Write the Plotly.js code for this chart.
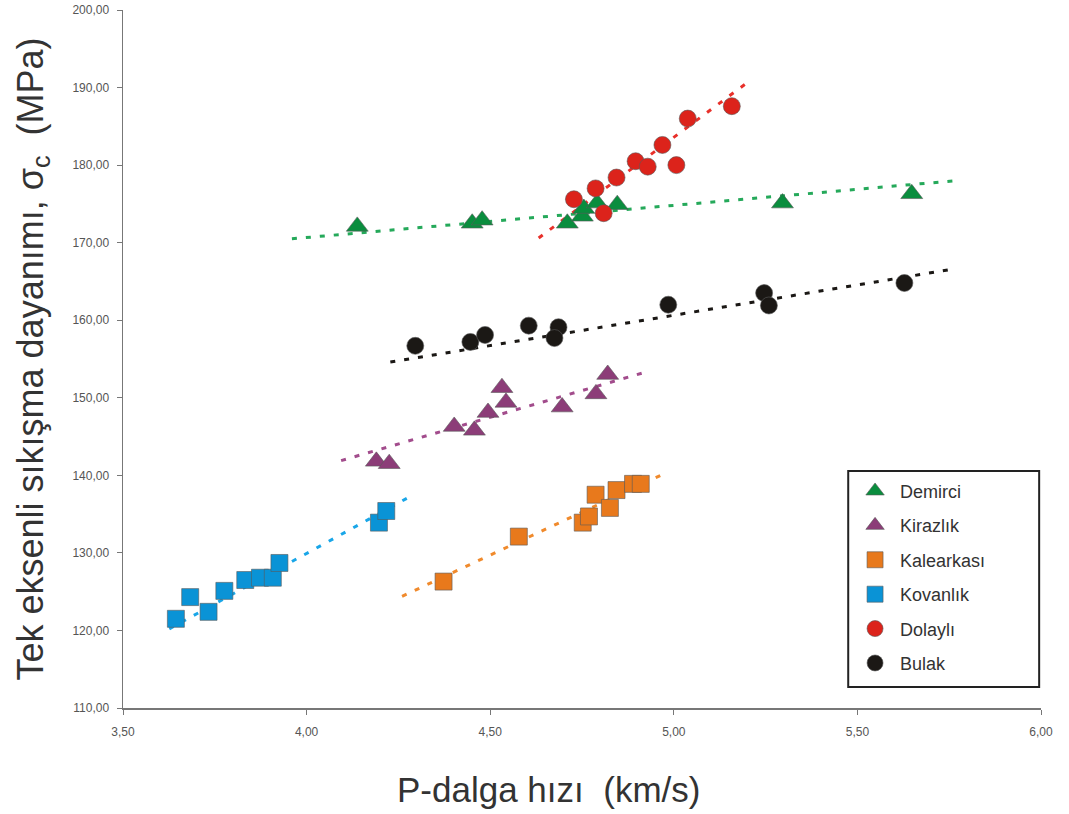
<!DOCTYPE html>
<html>
<head>
<meta charset="utf-8">
<script src="https://cdn.plot.ly/plotly-3.0.1.min.js"></script>
<style>html,body{margin:0;padding:0;background:#fff}#chart{width:1069px;height:814px}</style>
</head>
<body>
<div id="chart"></div>
<script>
// Demirci
const demirciX = [4.138, 4.451, 4.478, 4.710, 4.751, 4.755, 4.791, 4.846, 5.296, 5.648];
const demirciY = [172.1, 172.5, 172.9, 172.5, 173.4, 174.4, 175.1, 174.9, 175.1, 176.3];
const demirciTrendX = [3.96, 5.77];
const demirciTrendY = [170.5, 178.0];
// Kirazlık
const kirazlikX = [4.190, 4.225, 4.402, 4.457, 4.494, 4.532, 4.543, 4.696, 4.788, 4.820];
const kirazlikY = [141.8, 141.5, 146.3, 145.8, 148.1, 151.3, 149.4, 148.8, 150.5, 153.0];
const kirazlikTrendX = [4.094, 4.915];
const kirazlikTrendY = [141.9, 153.2];
// Kalearkası
const kalearkasiX = [4.373, 4.578, 4.752, 4.769, 4.787, 4.826, 4.844, 4.889, 4.910];
const kalearkasiY = [126.3, 132.1, 133.9, 134.7, 137.5, 135.8, 138.1, 138.9, 138.9];
const kalearkasiTrendX = [4.260, 4.978];
const kalearkasiTrendY = [124.4, 140.3];
// Kovanlık
const kovanlikX = [3.644, 3.683, 3.733, 3.776, 3.833, 3.873, 3.908, 3.926, 4.197, 4.217];
const kovanlikY = [121.5, 124.3, 122.4, 125.1, 126.5, 126.8, 126.8, 128.7, 133.9, 135.4];
const kovanlikTrendX = [3.626, 4.287];
const kovanlikTrendY = [120.2, 137.4];
// Dolaylı
const dolayliX = [4.728, 4.787, 4.809, 4.844, 4.896, 4.929, 4.969, 5.007, 5.038, 5.158];
const dolayliY = [175.6, 177.0, 173.8, 178.4, 180.5, 179.8, 182.6, 180.0, 186.0, 187.6];
const dolayliTrendX = [4.632, 5.196];
const dolayliTrendY = [170.6, 190.5];
// Bulak
const bulakX = [4.296, 4.446, 4.486, 4.605, 4.686, 4.675, 4.985, 5.246, 5.259, 5.628];
const bulakY = [156.7, 157.2, 158.1, 159.3, 159.1, 157.7, 162.0, 163.5, 161.9, 164.8];
const bulakTrendX = [4.228, 5.749];
const bulakTrendY = [154.6, 166.5];

const seriesNames = ['Demirci', 'Kirazlık', 'Kalearkası', 'Kovanlık', 'Dolaylı', 'Bulak'];
const seriesX = [demirciX, kirazlikX, kalearkasiX, kovanlikX, dolayliX, bulakX];
const seriesY = [demirciY, kirazlikY, kalearkasiY, kovanlikY, dolayliY, bulakY];
const trendX = [demirciTrendX, kirazlikTrendX, kalearkasiTrendX, kovanlikTrendX, dolayliTrendX, bulakTrendX];
const trendY = [demirciTrendY, kirazlikTrendY, kalearkasiTrendY, kovanlikTrendY, dolayliTrendY, bulakTrendY];
const colors = ['#0a8d3e', '#8c3d78', '#e8791c', '#0a93d6', '#dc231b', '#1b1815'];
const trendColors = ['#25a95a', '#a24c8c', '#f08a2c', '#19a6e8', '#e8302a', '#1b1815'];
const symbols = ['triangle-up', 'triangle-up', 'square', 'square', 'circle', 'circle'];
const sizes = [19, 19, 17, 17, 17, 17];
const xTitle = 'P-dalga hızı  (km/s)';
const yTitle = 'Tek eksenli sıkışma dayanımı, σ<sub>c</sub>  (MPa)';

const traces = [];
for (let i = 0; i < seriesNames.length; i++) {
  traces.push({
    x: trendX[i], y: trendY[i], type: 'scatter', mode: 'lines',
    line: {color: trendColors[i], width: 3, dash: '5px,9px'},
    showlegend: false, hoverinfo: 'skip'
  });
}
for (let i = 0; i < seriesNames.length; i++) {
  traces.push({
    x: seriesX[i], y: seriesY[i], type: 'scatter', mode: 'markers',
    name: seriesNames[i], legendgroup: 'g' + i,
    marker: {symbol: symbols[i], size: sizes[i], color: colors[i],
             line: {color: 'rgba(90,90,90,0.6)', width: 1}}
  });
}

const font = 'Liberation Sans, Arial, sans-serif';
const layout = {
  width: 1069, height: 814,
  margin: {l: 123, r: 28, t: 10, b: 106},
  paper_bgcolor: '#fff', plot_bgcolor: '#fff',
  separators: ', ',
  font: {family: font, color: '#555'},
  showlegend: true,
  legend: {
    x: 0.792, y: 0.337, xanchor: 'left', yanchor: 'top',
    borderwidth: 0, bgcolor: 'rgba(0,0,0,0)',
    font: {family: font, size: 18, color: '#333'},
    tracegroupgap: 8, itemwidth: 40
  },
  shapes: [{
    type: 'rect', xref: 'paper', yref: 'paper',
    x0: 0.790, x1: 0.998, y0: 0.030, y1: 0.3395,
    line: {color: '#222', width: 2}, fillcolor: 'rgba(0,0,0,0)', layer: 'below'
  }],
  annotations: [{
    text: xTitle, xref: 'paper', yref: 'paper', x: 0.463, y: -0.117,
    xanchor: 'center', yanchor: 'middle', showarrow: false,
    font: {size: 35, color: '#333', family: font}
  }],
  xaxis: {
    range: [3.5, 6.0], dtick: 0.5, tick0: 3.5, tickformat: '.2f',
    showgrid: false, zeroline: false, showline: true, linecolor: '#777', linewidth: 1.5,
    ticks: 'outside', ticklen: 5, tickcolor: '#777', ticklabelstandoff: 7,
    tickfont: {size: 12, color: '#555', family: font}
  },
  yaxis: {
    range: [110, 200], dtick: 10, tickformat: '.2f',
    showgrid: false, zeroline: false, showline: true, linecolor: '#777', linewidth: 1.5,
    ticks: 'outside', ticklen: 5, tickcolor: '#777', ticklabelstandoff: 5,
    tickfont: {size: 12, color: '#555', family: font},
    title: {text: yTitle, font: {size: 36, color: '#333', family: font}, standoff: 18}
  }
};
Plotly.newPlot('chart', traces, layout, {displayModeBar: false, staticPlot: true});
</script>
</body>
</html>
